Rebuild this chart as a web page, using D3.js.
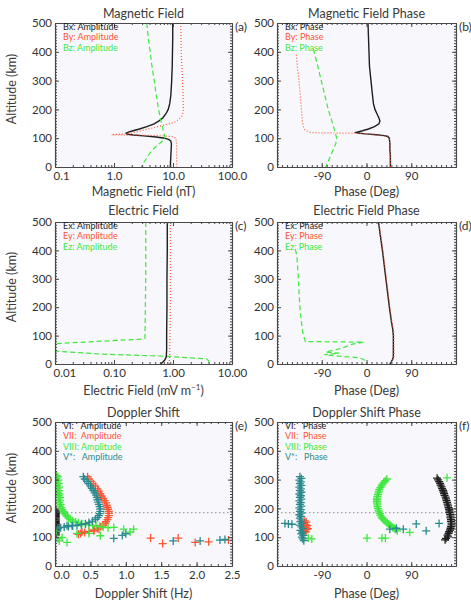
<!DOCTYPE html>
<html>
<head>
<meta charset="utf-8">
<script src="https://cdn.jsdelivr.net/npm/d3@7"></script>
<style>
  body { margin: 0; background: #fff; }
  svg text { font-family: Lato, "DejaVu Sans", sans-serif; }
</style>
</head>
<body>
<div id="chart"></div>
<script>
// ---------------------------------------------------------
// 1. DATA
// ---------------------------------------------------------

const altTicks = [0, 100, 200, 300, 400, 500];
const altMinor = d3.range(0, 501, 10);

const magTicks = [0.1, 1, 10, 100];
const magTickLabels = ["0.1", "1.0", "10.0", "100.0"];
const eTicks = [0.01, 0.1, 1, 10];
const eTickLabels = ["0.01", "0.10", "1.00", "10.00"];
const phaseTicks = [-90, 0, 90];
const dopTicks = [0, 0.5, 1, 1.5, 2, 2.5];

// (a) magnetic field amplitude (nT)
const bxAlt = [500,450,400,350,300,250,220,200,185,170,160,150,140,132,126,121,117,114,111,108,104,100,95,90,80,60,40,20,0];
const bxAmp = [9.9,9.9,9.8,9.7,9.5,9.2,8.8,8.3,7.6,6.7,5.8,4.8,3.6,2.7,2.1,1.75,1.6,1.65,2.1,3.2,5.2,7.2,8.6,9.2,9.4,9.3,9.2,9.1,9.0];
const byAlt = [500,400,300,250,200,185,175,165,155,148,140,132,125,118,114,112,111,110,108,105,100,80,50,0];
const byAmp = [13.5,13.8,14.5,14.8,15.0,14.6,14.0,12.5,10.5,8.0,5.5,3.8,2.8,2.0,1.3,0.9,1.5,3.5,7.0,10.0,11.2,11.5,11.5,11.6];
const bzAlt = [500,450,400,350,300,250,200,150,120,105,95,80,60,40,20,0];
const bzAmp = [3.6,3.8,4.1,4.4,4.8,5.2,5.7,6.4,7.0,7.3,7.0,5.8,4.5,3.8,3.3,2.9];

// (b) magnetic field phase (deg)
const bxPhAlt = [500,450,400,350,300,250,220,200,185,170,160,150,140,132,126,122,120,118,115,112,109,106,100,80,60,40,20,0];
const bxPh = [3,4,5,6,9,12,14,17,21,25,27,25,16,4,-8,-17,-21,-18,-2,20,36,43,46,47,47,48,48,48];
const byPhAlt = [390,350,300,250,200,160,140,130,124,120,118.5,118,117.5,117,116,113,110,107,103,95,80,60,40,20,0];
const byPh = [-141,-139,-136,-133,-131,-129,-127,-124,-119,-112,-90,-60,-35,-20,-8,12,25,38,44,46,47,47,48,48,48];
const bzPhAlt = [410,350,300,250,200,150,120,100,80,60,40,20,0];
const bzPh = [-107,-98,-91,-84,-77,-68,-63,-60,-62,-67,-72,-77,-82];

// (c) electric field amplitude (mV/m)
const exAlt = [500,400,300,200,100,50,25,15,8,0];
const exAmp = [0.80,0.80,0.79,0.79,0.78,0.78,0.77,0.73,0.68,0.62];
const eyAlt = [500,300,200,100,30,0];
const eyAmp = [0.90,0.90,0.90,0.89,0.88,0.86];
const ezAlt = [500,300,200,100,90,88,72,70,47,45,35,27,18,12,0];
const ezAmp = [0.345,0.345,0.34,0.335,0.335,0.32,0.0107,0.005,0.005,0.011,0.058,0.8,3.7,4.0,4.2];

// (d) electric field phase (deg)
const exPhAlt = [500,400,300,200,150,120,100,50,25,15,5,0];
const exPh = [24,32,39,46,50,53,54,54,54,52,49,47];
const eyPh = [25,33,40,47,51,54,55,55,55,53,50,48];
const ezPhAlt = [403,380,300,200,150,110,90,79,77,70,55,42,38,33,27,22,15,0];
const ezPh = [-143,-140,-137,-134,-131,-128,-125,-123,-5,-28,-51,-82,-55,-85,-50,-15,-5,-3];

// (e) Doppler shift amplitude [Hz, km]
const viAmp = [[0.01,195],[0.01,191],[0.01,187],[0.01,183],[0.01,179],[0.01,175],[0.01,171],[0.01,167],[0.01,163],[0.01,159],[0.01,155],[0.01,151],[0.01,147],[0.01,143],[0.01,139],[0.01,135],[0.01,131],[0.01,127],[0.01,123],[0.01,119],[0.01,115],[0.01,111],[0.01,107]];
const viiAmp = [[0.46,310],[0.48,302],[0.51,294],[0.54,285],[0.57,277],[0.60,268],[0.62,260],[0.64,251],[0.66,243],[0.68,235],[0.70,227],[0.72,219],[0.73,211],[0.74,204],[0.75,197],[0.76,190],[0.76,183],[0.76,175],[0.75,168],[0.74,161],[0.72,154],[0.71,148],[0.68,142],[0.64,136],[0.60,130],[0.55,125],[0.48,120],[0.42,116],[0.36,113],[0.33,110],[0.38,118],[0.55,122],[0.62,128],[1.35,97],[1.52,78],[1.74,97],[1.98,82],[2.17,84],[2.45,90]];
const viiiAmp = [[0.02,315],[0.04,310],[0.02,304],[0.05,298],[0.03,292],[0.05,286],[0.03,280],[0.06,274],[0.04,268],[0.06,262],[0.04,256],[0.06,250],[0.05,244],[0.07,238],[0.05,232],[0.07,226],[0.06,220],[0.08,214],[0.07,208],[0.09,202],[0.10,196],[0.12,190],[0.13,184],[0.15,178],[0.17,172],[0.19,167],[0.22,162],[0.25,157],[0.29,153],[0.33,150],[0.38,147],[0.43,145],[0.48,143],[0.53,141],[0.58,139],[0.63,137],[0.68,135],[0.75,133],[0.83,134],[0.97,128],[1.11,128],[1.06,118],[0.04,95],[0.06,87],[0.17,82],[0.10,99],[0.31,113],[0.48,113],[0.64,105],[0.02,120]];
const vStarAmp = [[0.40,310],[0.42,302],[0.45,294],[0.47,286],[0.50,278],[0.52,270],[0.54,262],[0.56,254],[0.58,246],[0.59,238],[0.60,230],[0.61,222],[0.62,214],[0.63,206],[0.64,198],[0.64,190],[0.63,182],[0.62,175],[0.60,168],[0.57,162],[0.53,156],[0.48,151],[0.43,147],[0.37,144],[0.31,141],[0.25,139],[0.19,137],[0.13,135],[0.08,133],[0.04,131],[0.17,140],[0.24,141],[0.83,96],[0.95,106],[1.0,112],[1.67,87],[2.05,87],[2.33,90],[2.40,92]];

// (f) Doppler shift phase [deg, km]
const viPh = [[142,305],[144,299],[146,293],[148,287],[149,281],[151,275],[152,269],[154,263],[155,257],[156,251],[157,245],[159,239],[160,233],[161,227],[162,221],[163,215],[164,209],[165,203],[166,197],[167,191],[167,185],[168,179],[169,173],[169,167],[170,161],[170,155],[171,149],[171,143],[170,137],[169,131],[168,125],[166,119],[165,113],[163,107],[164,101],[160,96],[158,91]];
const viiPh = [[-124,157],[-121,152],[-125,148],[-122,143],[-126,139],[-121,135],[-124,131],[-120,127],[-125,123],[-122,119],[-127,115],[-119,140],[-118,130]];
const viiiPh = [[41,302],[38,296],[35,290],[32,284],[30,278],[28,272],[26,266],[25,260],[24,254],[23,248],[22,242],[21,236],[21,230],[21,224],[21,218],[22,212],[22,206],[23,200],[24,194],[25,188],[27,182],[28,176],[30,170],[32,165],[35,160],[38,155],[41,150],[44,146],[47,142],[50,138],[53,134],[56,130],[59,126],[62,122],[-110,94],[-117,97],[1,97],[31,97],[38,97],[87,117],[162,306]];
const vStarPh = [[-134,310],[-131,304],[-135,298],[-132,292],[-134,286],[-131,280],[-135,274],[-132,268],[-134,262],[-131,256],[-135,250],[-132,244],[-134,238],[-131,232],[-135,226],[-132,220],[-134,214],[-131,208],[-135,202],[-132,196],[-134,190],[-131,184],[-135,178],[-132,172],[-134,166],[-131,160],[-133,154],[-130,148],[-134,142],[-131,136],[-128,130],[-133,124],[-129,118],[-131,112],[-127,106],[-130,100],[-128,94],[-126,88],[-157,146],[-164,148],[-150,145],[47,128],[60,131],[74,128],[100,146],[120,122],[146,148]];

const dopplerRefAlt = 185;

// ---------------------------------------------------------
// 2. CONFIGURATION
// ---------------------------------------------------------
const width = 471;
const height = 603;

const BLACK = "#1e1e1e", RED = "#ff5533", GREEN = "#3ee83e", TEAL = "#2a8a8d";
const AXIS = "#484848", TEXT = "#333", BG = "#f8f8fc";

const cols = [{ left: 55, right: 232 }, { left: 277, right: 456 }];
const rows = [
    { top: 23, bottom: 167, titleY: 17.5, xTitleY: 196 },
    { top: 222, bottom: 364, titleY: 214.5, xTitleY: 395 },
    { top: 422, bottom: 566, titleY: 417, xTitleY: 598 }
];

const solid = { color: BLACK, dash: null, width: 1.4 };
const dotted = { color: RED, dash: "1,2", width: 1.2 };
const dashed = { color: GREEN, dash: "5,3", width: 1.2 };

const logMinor = (lo, hi) => {
    const out = [];
    for (let e = lo; e < hi; e++) for (let k = 1; k < 10; k++) out.push(k * Math.pow(10, e));
    out.push(Math.pow(10, hi));
    return out;
};

const panels = [
    { id: "a", col: 0, row: 0, title: "Magnetic Field", xTitle: "Magnetic Field (nT)", log: true,
      xDomain: [0.1, 100], xTicks: magTicks, xLabels: magTickLabels, xMinor: logMinor(-1, 2),
      lines: [
        { ...solid, alt: bxAlt, val: bxAmp },
        { ...dashed, alt: bzAlt, val: bzAmp },
        { ...dotted, alt: byAlt, val: byAmp }
      ],
      legend: [["Bx: Amplitude", BLACK], ["By: Amplitude", RED], ["Bz: Amplitude", GREEN]] },
    { id: "b", col: 1, row: 0, title: "Magnetic Field Phase", xTitle: "Phase (Deg)",
      xDomain: [-180, 180], xTicks: phaseTicks, xMinor: d3.range(-180, 181, 10),
      lines: [
        { ...solid, alt: bxPhAlt, val: bxPh },
        { ...dashed, alt: bzPhAlt, val: bzPh },
        { ...dotted, alt: byPhAlt, val: byPh }
      ],
      legend: [["Bx: Phase", BLACK], ["By: Phase", RED], ["Bz: Phase", GREEN]] },
    { id: "c", col: 0, row: 1, title: "Electric Field", xTitle: "Electric Field (mV m", xSup: "\u22121", log: true,
      xDomain: [0.01, 10], xTicks: eTicks, xLabels: eTickLabels, xMinor: logMinor(-2, 1),
      lines: [
        { ...dashed, alt: ezAlt, val: ezAmp },
        { ...solid, alt: exAlt, val: exAmp },
        { ...dotted, alt: eyAlt, val: eyAmp }
      ],
      legend: [["Ex: Amplitude", BLACK], ["Ey: Amplitude", RED], ["Ez: Amplitude", GREEN]] },
    { id: "d", col: 1, row: 1, title: "Electric Field Phase", xTitle: "Phase (Deg)",
      xDomain: [-180, 180], xTicks: phaseTicks, xMinor: d3.range(-180, 181, 10),
      lines: [
        { ...dashed, alt: ezPhAlt, val: ezPh },
        { ...solid, alt: exPhAlt, val: exPh },
        { ...dotted, alt: exPhAlt, val: eyPh }
      ],
      legend: [["Ex: Phase", BLACK], ["Ey: Phase", RED], ["Ez: Phase", GREEN]] },
    { id: "e", col: 0, row: 2, title: "Doppler Shift", xTitle: "Doppler Shift (Hz)",
      xDomain: [0, 2.5], xTicks: dopTicks, xFormat: d3.format(".1f"), xMinor: d3.range(0, 2.51, 0.1),
      refAlt: dopplerRefAlt,
      points: [
        { color: BLACK, pts: viAmp }, { color: RED, pts: viiAmp },
        { color: GREEN, pts: viiiAmp }, { color: TEAL, pts: vStarAmp }
      ],
      legend: [["VI:   Amplitude", BLACK], ["VII:  Amplitude", RED], ["VIII: Amplitude", GREEN], ["V*:   Amplitude", TEAL]] },
    { id: "f", col: 1, row: 2, title: "Doppler Shift Phase", xTitle: "Phase (Deg)",
      xDomain: [-180, 180], xTicks: phaseTicks, xMinor: d3.range(-180, 181, 10),
      refAlt: dopplerRefAlt,
      points: [
        { color: BLACK, pts: viPh }, { color: RED, pts: viiPh },
        { color: GREEN, pts: viiiPh }, { color: TEAL, pts: vStarPh }
      ],
      legend: [["VI:   Phase", BLACK], ["VII:  Phase", RED], ["VIII: Phase", GREEN], ["V*:   Phase", TEAL]] }
];

const svg = d3.select("#chart")
    .append("svg")
    .attr("width", width)
    .attr("height", height);

svg.append("rect").attr("width", width).attr("height", height).attr("fill", "#fff");

const plus = "M-4,0H4M0,-4V4";

// ---------------------------------------------------------
// 3. DRAWING
// ---------------------------------------------------------
panels.forEach(drawPanel);

function drawPanel(p) {
    const c = cols[p.col], r = rows[p.row];
    const x = (p.log ? d3.scaleLog() : d3.scaleLinear()).domain(p.xDomain).range([c.left, c.right]);
    const y = d3.scaleLinear().domain([0, 500]).range([r.bottom, r.top]);
    const g = svg.append("g");

    g.append("clipPath").attr("id", "clip-" + p.id)
        .append("rect")
        .attr("x", c.left).attr("y", r.top)
        .attr("width", c.right - c.left).attr("height", r.bottom - r.top);

    g.append("rect")
        .attr("x", c.left).attr("y", r.top)
        .attr("width", c.right - c.left).attr("height", r.bottom - r.top)
        .attr("fill", BG);

    const plot = g.append("g").attr("clip-path", `url(#clip-${p.id})`);

    if (p.refAlt) {
        plot.append("line")
            .attr("x1", c.left).attr("x2", c.right)
            .attr("y1", y(p.refAlt)).attr("y2", y(p.refAlt))
            .attr("stroke", "#8a8a8a").attr("stroke-width", 1)
            .attr("stroke-dasharray", "1.5,2.5");
    }

    const line = d3.line().x(d => x(d[0])).y(d => y(d[1]));
    (p.lines || []).forEach(s => {
        plot.append("path")
            .datum(d3.zip(s.val, s.alt))
            .attr("d", line)
            .attr("fill", "none")
            .attr("stroke", s.color)
            .attr("stroke-width", s.width)
            .attr("stroke-dasharray", s.dash);
    });

    (p.points || []).forEach(s => {
        plot.append("g").selectAll("path")
            .data(s.pts)
            .join("path")
            .attr("d", plus)
            .attr("transform", d => `translate(${x(d[0])},${y(d[1])})`)
            .attr("fill", "none")
            .attr("stroke", s.color)
            .attr("stroke-width", 1.3);
    });

    // --- AXES (ticks inside on all four sides) ---
    const axes = g.append("g");
    const blank = () => "";
    function addAxis(gen, tx, ty, vals, size, fmt) {
        gen.tickValues(vals).tickSizeInner(size).tickSizeOuter(0).tickPadding(3).tickFormat(fmt || blank);
        const a = axes.append("g").attr("transform", `translate(${tx},${ty})`).call(gen);
        a.attr("font-family", null).attr("font-size", 11.5);
        a.select(".domain").attr("stroke", AXIS).attr("stroke-width", 1.1);
        a.selectAll(".tick line").attr("stroke", AXIS);
        a.selectAll(".tick text").attr("fill", TEXT);
        return a;
    }

    const xFmt = p.xLabels ? (d => p.xLabels[p.xTicks.indexOf(d)]) : (p.xFormat || (d => d));
    addAxis(d3.axisBottom(x), 0, r.bottom, p.xMinor, -2);
    addAxis(d3.axisTop(x), 0, r.top, p.xMinor, -2);
    const bottomLabels = addAxis(d3.axisBottom(x), 0, r.bottom, p.xTicks, -4, xFmt).selectAll(".tick text")
        .attr("dy", "0.9em");
    // the first label on the left column sits just right of its tick, clear of the "0" altitude label
    if (p.col === 0) bottomLabels.filter((d, i) => i === 0).attr("text-anchor", "start").attr("x", -2);
    addAxis(d3.axisTop(x), 0, r.top, p.xTicks, -4);

    addAxis(d3.axisLeft(y), c.left, 0, altMinor, -2);
    addAxis(d3.axisRight(y), c.right, 0, altMinor, -2);
    addAxis(d3.axisLeft(y), c.left, 0, altTicks, -4, d => d);
    addAxis(d3.axisRight(y), c.right, 0, altTicks, -4);

    // --- TEXTS ---
    const cx = (c.left + c.right) / 2;
    g.append("text").attr("x", cx).attr("y", r.titleY)
        .attr("text-anchor", "middle").attr("font-size", 12.5).attr("fill", "#3a3a3a")
        .text(p.title);

    const xt = g.append("text").attr("x", cx).attr("y", r.xTitleY)
        .attr("text-anchor", "middle").attr("font-size", 12.5).attr("fill", "#3a3a3a")
        .text(p.xTitle);
    if (p.xSup) {
        xt.append("tspan").attr("font-size", 8).attr("dy", -5).text(p.xSup);
        xt.append("tspan").attr("dy", 5).text(")");
    }

    if (p.col === 0) {
        g.append("text")
            .attr("transform", `translate(16,${(r.top + r.bottom) / 2 - 6}) rotate(-90)`)
            .attr("text-anchor", "middle").attr("font-size", 12.5).attr("fill", "#3a3a3a")
            .text("Altitude (km)");
    }

    g.append("text").attr("x", c.right + 3).attr("y", r.top + 4).attr("dy", "0.35em")
        .attr("font-size", 12).attr("fill", TEXT)
        .text(`(${p.id})`);

    g.append("g").selectAll("text")
        .data(p.legend)
        .join("text")
        .attr("x", c.left + 8)
        .attr("y", (d, i) => r.top + 3.5 + i * 10.5)
        .attr("dy", "0.35em")
        .attr("font-size", 9)
        .attr("fill", d => d[1])
        .style("white-space", "pre")
        .text(d => d[0]);
}
</script>
</body>
</html>
